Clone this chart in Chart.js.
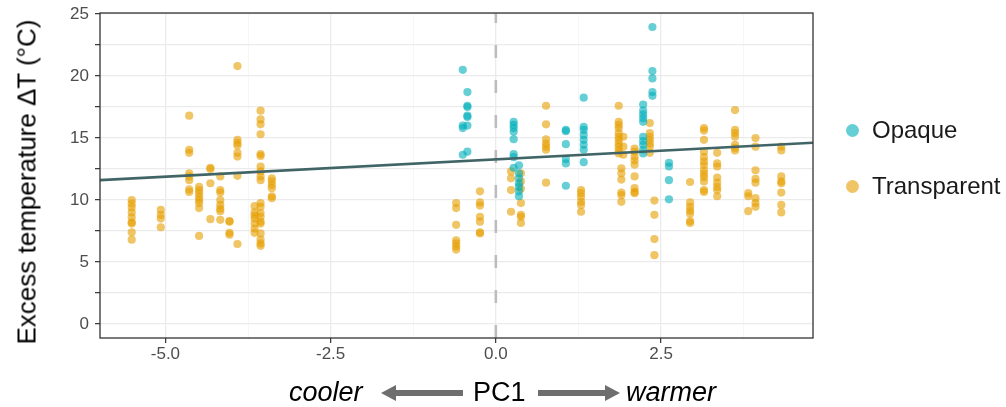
<!DOCTYPE html>
<html>
<head>
<meta charset="utf-8">
<script src="https://cdn.jsdelivr.net/npm/chart.js@4"></script>
<style>
  body { margin: 0; background: #fff; }
  #wrap { position: relative; width: 1006px; height: 407px; font-family: 'Liberation Sans', Arial, sans-serif; }
  #ytitle { position: absolute; left: 27px; top: 182px; transform: translate(-50%, -50%) rotate(-90deg); white-space: nowrap; font-size: 26px; color: #000; }
  .xt { position: absolute; top: 377px; line-height: 30px; font-size: 27px; color: #000; white-space: nowrap; }
  .arrow { position: absolute; top: 385px; }
  .leg { position: absolute; left: 846px; font-size: 24px; line-height: 28px; color: #1a1a1a; }
  .leg span.dot { position: absolute; left: 0; top: 8px; width: 13px; height: 13px; border-radius: 50%; }
  .leg span.lab { position: absolute; left: 26px; top: 0; white-space: nowrap; }
</style>
</head>
<body>
<div id="wrap">
  <canvas id="pcChart" width="1006" height="407"></canvas>
  <div id="ytitle">Excess temperature ΔT (°C)</div>
  <div class="xt" style="left:289px"><i>cooler</i></div>
  <svg class="arrow" style="left:381px" width="82" height="16"><polygon points="0,8 15,0 15,5 82,5 82,11 15,11 15,16" fill="#6e6e6e"/></svg>
  <div class="xt" style="left:473px">PC1</div>
  <svg class="arrow" style="left:538px" width="82" height="16"><polygon points="82,8 67,0 67,5 0,5 0,11 67,11 67,16" fill="#6e6e6e"/></svg>
  <div class="xt" style="left:626px"><i>warmer</i></div>
  <div class="leg" style="top:116px"><span class="dot" style="background:rgba(0,175,187,0.6)"></span><span class="lab">Opaque</span></div>
  <div class="leg" style="top:172px"><span class="dot" style="background:rgba(230,159,0,0.6)"></span><span class="lab">Transparent</span></div>
</div>
<script>
// axis limits
const xMin = -5.99, xMax = 4.80;
const yMin = -1.13, yMax = 25.08;
const xTicks = [-5, -3.75, -2.5, -1.25, 0, 1.25, 2.5, 3.75];
const yTicks = [0, 2.5, 5, 7.5, 10, 12.5, 15, 17.5, 20, 22.5, 25];

// points grouped by PC1 column: [pc1, [deltaT...]]
const opaqueCols = [
  [-0.50, [20.5, 16.0, 15.8, 13.65]],
  [-0.43, [18.7, 17.6, 17.5, 16.8, 16.7, 16.0, 13.9]],
  [0.27, [16.3, 16.05, 15.8, 15.5, 14.9, 13.7, 13.45, 12.6]],
  [0.35, [12.8, 12.15, 11.75, 11.35, 11.05, 10.7, 10.3]],
  [1.06, [15.65, 15.55, 14.5, 13.3, 12.95, 11.15]],
  [1.33, [18.25, 15.9, 15.65, 15.25, 14.85, 14.45, 14.05, 13.05]],
  [2.23, [17.7, 17.2, 16.9, 16.6, 16.3, 15.1, 14.75, 14.45, 14.05, 13.75]],
  [2.37, [23.95, 20.4, 19.8, 18.7, 18.4]],
  [2.62, [13.0, 12.7, 11.6, 10.05]]
];

const transparentCols = [
  [-5.51, [10.0, 9.7, 9.4, 9.0, 8.6, 8.2, 8.1, 7.4, 6.8]],
  [-5.07, [9.2, 8.8, 8.5, 7.8]],
  [-4.64, [16.8, 14.05, 13.8, 12.15, 11.9, 11.6, 10.85, 10.65]],
  [-4.49, [11.05, 10.8, 10.55, 10.25, 10.0, 9.75, 9.35, 7.1]],
  [-4.32, [12.6, 12.5, 11.35, 8.45]],
  [-4.17, [11.9, 10.8, 10.6, 10.0, 9.6, 9.3, 9.1, 8.4]],
  [-4.03, [8.3, 8.25, 7.35, 7.2]],
  [-3.91, [20.8, 14.85, 14.6, 14.4, 13.8, 13.5, 11.95, 6.45]],
  [-3.65, [9.5, 9.0, 8.75, 8.5, 8.1, 7.7, 7.35]],
  [-3.56, [17.2, 16.5, 16.1, 15.3, 13.7, 13.55, 12.7, 12.3, 11.9, 11.6, 9.75, 9.45, 8.95, 8.65, 8.25, 8.1, 7.3, 6.8, 6.5, 6.3]],
  [-3.39, [11.75, 11.5, 11.2, 10.95, 10.3, 10.15]],
  [-0.60, [9.75, 9.35, 8.0, 6.75, 6.5, 6.25, 6.0]],
  [-0.24, [10.7, 9.8, 9.55, 8.65, 8.25, 7.4, 7.3]],
  [0.23, [12.3, 11.75, 10.8, 9.05]],
  [0.38, [12.15, 11.5, 10.9, 9.75, 8.8, 8.65, 8.15]],
  [0.76, [17.6, 16.1, 14.9, 14.55, 14.3, 14.05, 11.4]],
  [1.29, [10.8, 10.55, 10.25, 9.85, 9.6, 9.05]],
  [1.86, [17.6, 16.3, 16.05, 15.8, 15.4, 15.1, 14.85, 14.55, 14.3, 14.0, 13.75]],
  [1.93, [15.1, 14.3, 13.65]],
  [1.90, [12.55, 12.15, 11.65, 10.6, 10.4, 9.85]],
  [2.10, [14.15, 13.9, 13.5, 13.2, 12.85, 11.9, 10.95, 10.65, 10.55]],
  [2.33, [16.2, 15.4, 15.1, 14.85, 14.55, 14.3, 13.8]],
  [2.40, [9.95, 8.8, 6.85, 5.55]],
  [2.94, [11.45, 9.8, 9.45, 9.15, 8.9, 8.3, 8.15]],
  [3.15, [15.8, 15.6, 14.85, 13.9, 13.45, 13.1, 12.8, 12.4, 12.1, 11.85, 11.5, 10.8, 10.65]],
  [3.35, [13.8, 12.95, 12.7, 11.8, 11.4, 11.05, 10.8, 10.3]],
  [3.62, [17.25, 15.65, 15.4, 15.1, 14.45, 14.2, 14.0]],
  [3.82, [10.55, 10.3, 9.1]],
  [3.93, [15.0, 14.3, 12.4, 11.7, 11.4, 10.15, 9.75, 9.45]],
  [4.32, [14.3, 14.0, 11.9, 11.5, 11.35, 10.6, 9.6, 9.0]]
];

// fitted line ends
const trendX = [-5.99, 4.80];
const trendY = [11.6, 14.62];

const toPoints = (cols) => cols.flatMap(([x, ys]) => ys.map((y) => ({ x, y })));
const isMajor = (v) => Math.abs(v / 2.5 - Math.round(v / 2.5)) < 1e-6;

// panel border like theme_bw
const panelBorder = {
  id: 'panelBorder',
  afterDraw(chart) {
    const { ctx, chartArea: a } = chart;
    ctx.save();
    ctx.strokeStyle = '#333333';
    ctx.lineWidth = 1.3;
    ctx.strokeRect(a.left, a.top, a.right - a.left, a.bottom - a.top);
    ctx.restore();
  }
};

// keep the panel exactly where it is in the picture
const fixSize = (prop, size) => (s) => {
  s[prop] = size;
  s.paddingTop = 0;
  s.paddingBottom = 0;
  s.paddingLeft = 0;
  s.paddingRight = 0;
};

const gridOpts = {
  color: (c) => (c.tick && isMajor(c.tick.value) ? '#ebebeb' : '#f5f5f5'),
  lineWidth: (c) => (c.tick && isMajor(c.tick.value) ? 1.3 : 0.9),
  tickColor: (c) => (c.tick && isMajor(c.tick.value) ? '#333333' : 'rgba(0,0,0,0)'),
  tickWidth: 1.2,
  tickLength: 5,
  drawTicks: true
};

const tickFont = { family: "'Liberation Sans', Arial, sans-serif", size: 17 };

new Chart(document.getElementById('pcChart'), {
  type: 'scatter',
  data: {
    datasets: [
      {
        type: 'line',
        data: trendX.map((x, i) => ({ x, y: trendY[i] })),
        borderColor: '#416567',
        borderWidth: 2.6,
        pointRadius: 0,
        order: 0
      },
      {
        label: 'Opaque',
        data: toPoints(opaqueCols),
        backgroundColor: 'rgba(0,175,187,0.6)',
        borderWidth: 0,
        pointRadius: 4.1,
        order: 1
      },
      {
        label: 'Transparent',
        data: toPoints(transparentCols),
        backgroundColor: 'rgba(230,159,0,0.6)',
        borderWidth: 0,
        pointRadius: 4.1,
        order: 2
      },
      {
        type: 'line',
        data: [{ x: 0, y: yMin }, { x: 0, y: yMax }],
        borderColor: '#bdbdbd',
        borderWidth: 2.6,
        borderDash: [13, 22],
        pointRadius: 0,
        order: 3
      }
    ]
  },
  options: {
    responsive: false,
    animation: false,
    layout: { padding: { top: 13, right: 193, bottom: 0, left: 0 } },
    plugins: { legend: { display: false }, tooltip: { enabled: false } },
    scales: {
      x: {
        type: 'linear',
        min: xMin,
        max: xMax,
        afterBuildTicks: (s) => { s.ticks = xTicks.map((v) => ({ value: v })); },
        afterFit: fixSize('height', 69),
        grid: gridOpts,
        border: { display: false },
        ticks: {
          font: tickFont,
          color: '#4d4d4d',
          padding: 1,
          maxRotation: 0,
          autoSkip: false,
          callback: (v) => (isMajor(v) ? v.toFixed(1) : '')
        }
      },
      y: {
        type: 'linear',
        min: yMin,
        max: yMax,
        afterBuildTicks: (s) => { s.ticks = yTicks.map((v) => ({ value: v })); },
        afterFit: fixSize('width', 100),
        grid: gridOpts,
        border: { display: false },
        ticks: {
          font: tickFont,
          color: '#4d4d4d',
          padding: 6,
          autoSkip: false,
          callback: (v) => (isMajor(v) && v % 5 === 0 ? String(v) : '')
        }
      }
    }
  },
  plugins: [panelBorder]
});
</script>
</body>
</html>
